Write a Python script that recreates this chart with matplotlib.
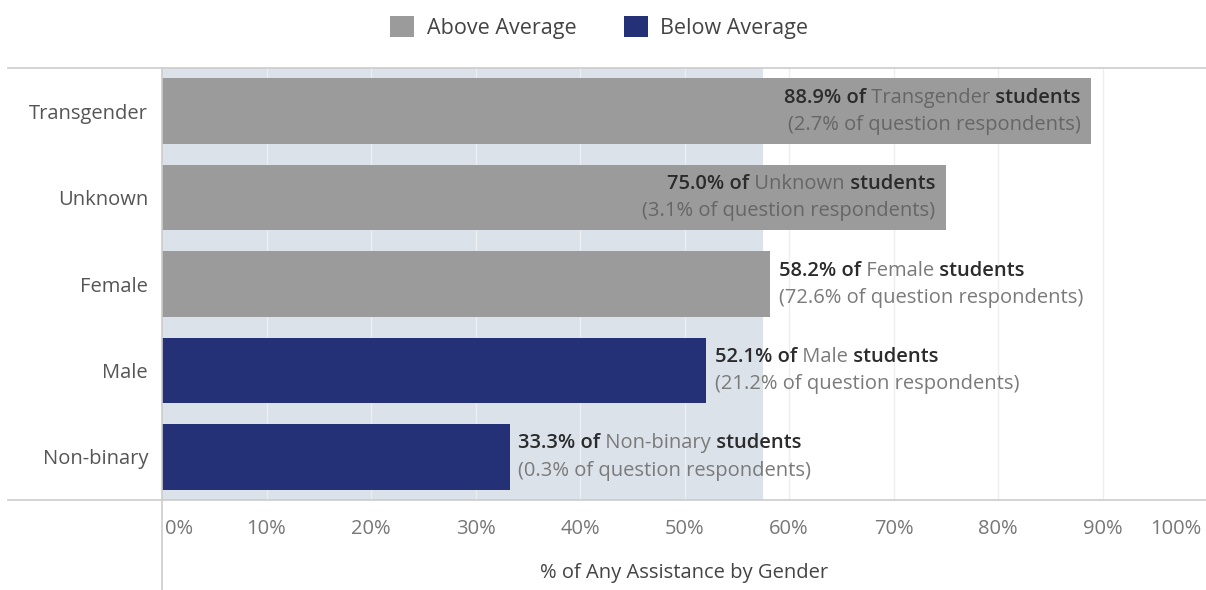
import matplotlib.pyplot as plt
from matplotlib.patches import Patch
from matplotlib.lines import Line2D
from matplotlib.transforms import ScaledTranslation

plt.rcParams['font.family'] = ['Open Sans', 'DejaVu Sans']

# data
genders = ["Transgender", "Unknown", "Female", "Male", "Non-binary"]
pct_assist = [88.9, 75.0, 58.2, 52.1, 33.3]
pct_respondents = [2.7, 3.1, 72.6, 21.2, 0.3]
above_avg = [True, True, True, False, False]
label_inside = [True, True, False, False, False]
average = 57.5
xticks = [0, 10, 20, 30, 40, 50, 60, 70, 80, 90, 100]

GREY = "#9b9b9b"
NAVY = "#253177"
SHADE = "#dce2ea"
DARK = "#2b2b2b"
MID = "#7a7a7a"

fig = plt.figure(figsize=(12.06, 5.90), dpi=100)
ax = fig.add_axes([162 / 1206, 90 / 590, 1045 / 1206, 432 / 590])
ax.set_xlim(0, 100)
ax.set_ylim(len(genders) - 0.5, -0.5)

ax.axvspan(0, average, color=SHADE, zorder=0, lw=0)
for t in xticks[1:]:
    ax.axvline(t, color="#eceef2", lw=1, zorder=1)

colors = [GREY if a else NAVY for a in above_avg]
ax.barh(range(len(genders)), pct_assist, height=0.76, color=colors, zorder=2)

fs = 14.5
for i, (g, v, r, inside) in enumerate(zip(genders, pct_assist, pct_respondents, label_inside)):
    y1 = i - 0.155
    y2 = i + 0.16
    if inside:
        x = v - 1.0
        p3 = ax.text(x, y1, " students", ha="right", va="center", fontsize=fs,
                     color=DARK, fontweight="semibold", zorder=3)
        p2 = ax.annotate(" " + g, xy=(0, 0), xycoords=p3, ha="right", va="bottom",
                         fontsize=fs, color="#666666", zorder=3)
        ax.annotate(f"{v:.1f}% of", xy=(0, 0), xycoords=p2, ha="right", va="bottom",
                    fontsize=fs, color=DARK, fontweight="semibold", zorder=3)
        ax.text(x, y2, f"({r:.1f}% of question respondents)", ha="right", va="center",
                fontsize=fs, color="#666666", zorder=3)
    else:
        x = v + 0.8
        p1 = ax.text(x, y1, f"{v:.1f}% of", ha="left", va="center", fontsize=fs,
                     color=DARK, fontweight="semibold", zorder=3)
        p2 = ax.annotate(" " + g, xy=(1, 0), xycoords=p1, ha="left", va="bottom",
                         fontsize=fs, color=MID, zorder=3)
        ax.annotate(" students", xy=(1, 0), xycoords=p2, ha="left", va="bottom",
                    fontsize=fs, color=DARK, fontweight="semibold", zorder=3)
        ax.text(x, y2, f"({r:.1f}% of question respondents)", ha="left", va="center",
                fontsize=fs, color=MID, zorder=3)

ax.set_yticks(range(len(genders)))
ax.set_yticklabels(genders, fontsize=fs, color="#555555")
ax.tick_params(axis="y", length=0, pad=10)
ax.set_xticks(xticks)
ax.set_xticklabels([f"{t}%" for t in xticks], fontsize=fs, color="#777777")
ax.tick_params(axis="x", length=0, pad=14)
labels = ax.get_xticklabels()
labels[0].set_ha("left")
labels[0].set_transform(labels[0].get_transform() + ScaledTranslation(3 / 100, 0, fig.dpi_scale_trans))
labels[-1].set_ha("right")
labels[-1].set_transform(labels[-1].get_transform() + ScaledTranslation(-6 / 100, 0, fig.dpi_scale_trans))
ax.set_xlabel("% of Any Assistance by Gender", fontsize=fs, color="#444444", labelpad=17)
for s in ax.spines.values():
    s.set_visible(False)

# frame lines
fig.add_artist(Line2D([8 / 1206, 1], [522 / 590] * 2, color="#cccccc", lw=1.2))
fig.add_artist(Line2D([8 / 1206, 1], [90 / 590] * 2, color="#cccccc", lw=1.2))
fig.add_artist(Line2D([162 / 1206] * 2, [0, 522 / 590], color="#cccccc", lw=1.2))

handles = [Patch(facecolor=GREY, label="Above Average"), Patch(facecolor=NAVY, label="Below Average")]
fig.legend(handles=handles, loc="upper center", bbox_to_anchor=(0.497, 1.005), ncol=2,
           frameon=False, fontsize=15.5, handlelength=1.1, handleheight=1.1,
           columnspacing=2.2, handletextpad=0.6, labelcolor="#444444")

fig.savefig("out.png", dpi=100)
